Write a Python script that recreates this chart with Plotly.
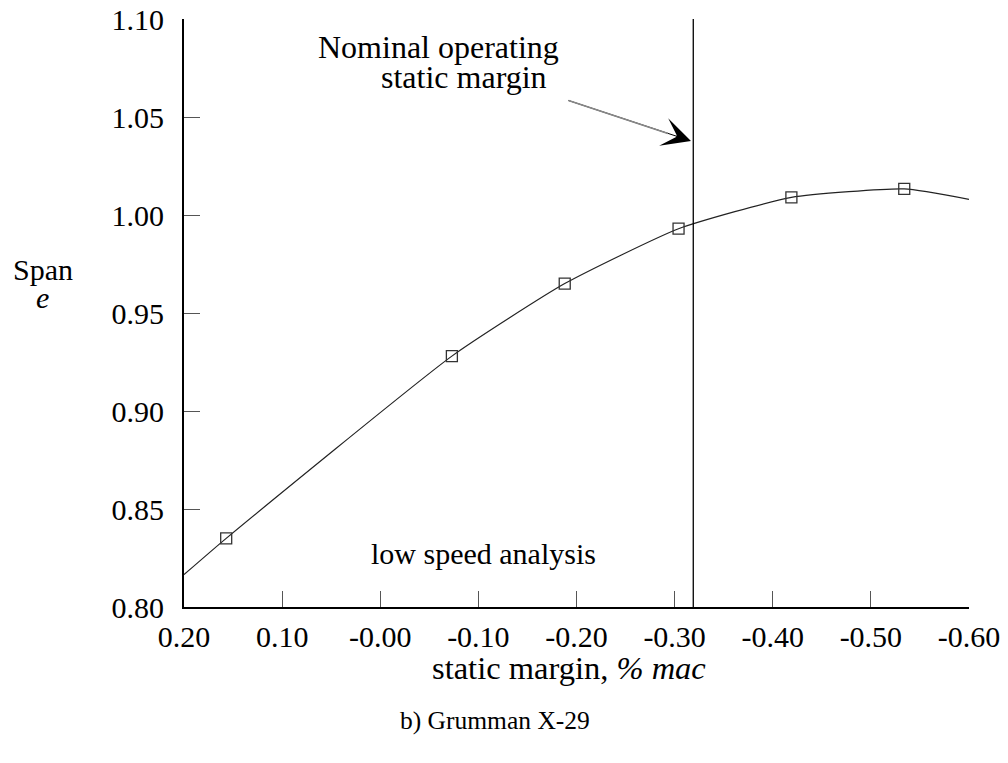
import plotly.graph_objects as go

# measured points (static margin, span efficiency)
sm_pts = [0.157, -0.073, -0.188, -0.304, -0.419, -0.534]
e_pts = [0.835, 0.928, 0.965, 0.993, 1.009, 1.0133]

# faired curve through the points, extended to axis limits
sm_curve = [0.20, 0.157, -0.073, -0.188, -0.304, -0.419, -0.534, -0.60]
e_curve = [0.8165, 0.835, 0.928, 0.965, 0.993, 1.009, 1.0133, 1.008]

nominal_sm = -0.319

x_ticks = [0.20, 0.10, 0.00, -0.10, -0.20, -0.30, -0.40, -0.50, -0.60]
x_labels = ["0.20", "0.10", "-0.00", "-0.10", "-0.20", "-0.30", "-0.40", "-0.50", "-0.60"]
y_ticks = [0.80, 0.85, 0.90, 0.95, 1.00, 1.05, 1.10]
y_labels = ["0.80", "0.85", "0.90", "0.95", "1.00", "1.05", "1.10"]

FONT = "Liberation Serif, Times New Roman, serif"
FS = 30

fig = go.Figure()
fig.add_trace(go.Scatter(x=sm_curve, y=e_curve, mode="lines",
                         line=dict(color="#222", width=1.2, shape="spline", smoothing=0.5),
                         hoverinfo="skip", showlegend=False))
fig.add_trace(go.Scatter(x=sm_pts, y=e_pts, mode="markers",
                         marker=dict(symbol="square-open", size=11, color="#333",
                                     line=dict(width=1.3, color="#333")),
                         showlegend=False))
fig.add_trace(go.Scatter(x=[nominal_sm, nominal_sm], y=[0.80, 1.10], mode="lines",
                         line=dict(color="black", width=1.3), showlegend=False,
                         hoverinfo="skip"))

# page body has an 8px margin; plot area should land at x 184..969, y 19..607
fig.update_layout(
    width=1008, height=763,
    margin=dict(l=176, r=47, t=11, b=164),
    paper_bgcolor="white", plot_bgcolor="white",
    font=dict(family=FONT, size=FS, color="black"),
    xaxis=dict(range=[0.20, -0.60], tickvals=x_ticks, ticktext=x_labels,
               ticks="inside", ticklen=16, tickcolor="#555", tickwidth=1,
               showline=True, linecolor="black", linewidth=2,
               showgrid=False, zeroline=False, ticklabelstandoff=2,
               automargin=False, ticklabeloverflow="allow",
               tickfont=dict(family=FONT, size=FS)),
    yaxis=dict(range=[0.80, 1.10], tickvals=y_ticks, ticktext=y_labels,
               ticks="inside", ticklen=16, tickcolor="#555", tickwidth=1,
               showline=True, linecolor="black", linewidth=2,
               showgrid=False, zeroline=False, ticklabelstandoff=12,
               automargin=False, ticklabeloverflow="allow",
               tickfont=dict(family=FONT, size=FS)),
)

def px2paper(px, py):
    return (px - 184) / 785, (607 - py) / 588

annots = [
    ("Span", 43, 269, 30),
    ("<i>e</i>", 42, 297, 30),
    ("Nominal operating", 438, 47, 32),
    ("static margin", 464, 77, 32),
    ("low speed analysis", 483, 553, 30),
    ("static margin, <i>% mac</i>", 569, 668, 32.5),
    ("b) Grumman X-29", 495, 720, 25.5),
]
for txt, px, py, fs in annots:
    xp, yp = px2paper(px, py)
    fig.add_annotation(x=xp, y=yp, xref="paper", yref="paper", text=txt,
                       showarrow=False, xanchor="center", yanchor="middle",
                       font=dict(family=FONT, size=fs, color="black"))

# arrow: black filled head, thin gray shaft drawn over the black shaft
tipx, tipy = px2paper(691, 141)
fig.add_annotation(x=tipx, y=tipy, xref="paper", yref="paper", text="",
                   showarrow=True, arrowhead=3, arrowwidth=1, arrowsize=4.8,
                   arrowcolor="black", ax=-124, ay=-41, standoff=0)
sx, sy = px2paper(668, 133.5)
fig.add_annotation(x=sx, y=sy, xref="paper", yref="paper", text="",
                   showarrow=True, arrowhead=0, arrowwidth=1.8, arrowcolor="#888",
                   ax=-101, ay=-33.5, standoff=0)

fig.write_html("out.html")
